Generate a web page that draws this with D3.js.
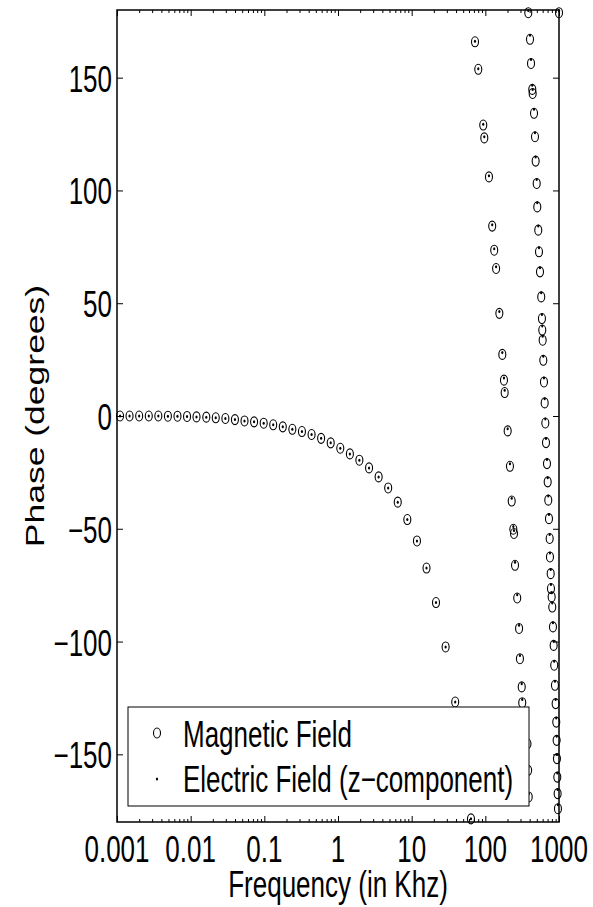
<!DOCTYPE html>
<html>
<head>
<meta charset="utf-8">
<script src="https://cdn.jsdelivr.net/npm/d3@7"></script>
<style>
  body { margin: 0; background: #fff; }
  text { font-family: "Liberation Sans", Arial, Helvetica, sans-serif; fill: #000; }
</style>
</head>
<body>
<div id="chart"></div>
<script>
// ---- data (frequency in kHz, phase in degrees) ----
// low frequency branch
const lowFreq = [0.0011, 0.00148, 0.0020, 0.0027, 0.00364, 0.00491, 0.00662, 0.00893, 0.0120, 0.0163,
    0.0219, 0.0296, 0.0399, 0.0538, 0.0726, 0.098, 0.132, 0.178, 0.240, 0.324,
    0.438, 0.590, 0.796, 1.074, 1.45, 1.95, 2.64, 3.56, 4.80, 6.47,
    8.73, 11.8, 15.9, 21.4, 28.9, 39.0, 52.6, 63.8];
const lowMagnetic = [0, 0, 0, 0, 0, -0.1, -0.1, -0.2, -0.4, -0.5,
    -0.8, -1.1, -1.6, -2.2, -2.6, -3.2, -3.9, -4.8, -5.9, -6.9,
    -8.2, -9.9, -11.9, -14.3, -16.8, -19.6, -23.0, -27.0, -31.9, -38.2,
    -45.9, -55.4, -67.4, -82.7, -102.4, -126.8, -153, -178.6];
const lowElectric = [0, 0, 0, 0, 0, -0.1, -0.1, -0.2, -0.4, -0.5,
    -0.8, -1.1, -1.6, -2.2, -2.6, -3.2, -3.9, -4.8, -5.9, -6.9,
    -8.2, -9.9, -11.9, -14.3, -16.8, -19.6, -23.0, -27.0, -31.9, -38.2,
    -45.9, -55.4, -67.4, -82.7, -102.4, -126.8, -153, -178.6];

// second wrap
const midFreq = [72.4, 80.2, 93.7, 96.8, 112, 124, 132, 140, 155, 170,
    179, 183, 201, 216, 228, 240, 245, 253, 271, 287,
    295, 312, 317, 373, 381, 388];
const midMagnetic = [165.9, 153.7, 129.0, 123.3, 106.0, 84.2, 73.5, 65.4, 45.5, 27.3,
    15.9, 10.4, -6.6, -22.3, -37.7, -50.2, -52.1, -66.2, -80.7, -94.2,
    -107.6, -120.1, -127.1, -145.3, -157.1, -168.9];
const midElectric = [166.2, 154.0, 129.4, 123.8, 106.5, 84.8, 74.2, 66.2, 46.3, 28.2,
    16.8, 11.4, -5.6, -21.2, -36.5, -49.0, -50.8, -64.8, -79.3, -92.8,
    -106.2, -118.7, -125.7, -143.9, -155.7, -167.5];

// third wrap
const highFreq = [383, 404, 417, 434, 439, 458, 472, 482, 498, 507,
    523, 535, 552, 574, 587, 593, 600, 612, 625, 639,
    652, 666, 687, 702, 715, 731, 747, 754, 771, 778,
    795, 810, 828, 846, 861, 881, 900, 918, 929, 938,
    948, 958, 968, 1000];
const highMagnetic = [178.8, 167, 156.3, 144.8, 143, 134.2, 123.8, 113, 103.1, 92.7,
    82.4, 72.8, 63.9, 52.8, 43.2, 38.1, 33.6, 24.7, 15.1, 5.8,
    -3.1, -11.8, -21.1, -29.2, -37.3, -45.5, -54.3, -62.5, -69.9, -76.5,
    -80.2, -84.7, -93.5, -101.7, -110.5, -119.4, -127.5, -135.7, -143.8, -151.9,
    -160.1, -167.4, -174.1, 178.8];
const highElectric = [179.8, 168.8, 158.1, 146.6, 144.8, 136, 125.6, 114.8, 104.9, 94.5,
    84.2, 74.6, 65.7, 54.6, 45, 39.9, 35.4, 26.5, 16.9, 7.6,
    -1.3, -10, -19.3, -27.4, -35.5, -43.7, -52.5, -60.7, -68.1, -74.7,
    -78.4, -82.9, -91.7, -99.9, -108.7, -117.6, -125.7, -133.9, -142, -150.1,
    -158.3, -165.6, -172.3, 179.8];

const xTicks = [0.001, 0.01, 0.1, 1, 10, 100, 1000];
const xTickLabels = ['0.001', '0.01', '0.1', '1', '10', '100', '1000'];
const yTicks = [-150, -100, -50, 0, 50, 100, 150];
const legendLabels = ['Magnetic Field', 'Electric Field (z\u2212component)'];

// ---- layout ----
const width = 593, height = 907;
const plot = {left: 117, right: 559, top: 10, bottom: 822};
const stretch = 1.42;   // the original figure is squeezed horizontally

const svg = d3.select('#chart').append('svg')
    .attr('width', width)
    .attr('height', height);

const x = d3.scaleLog().domain([0.001, 1000]).range([plot.left, plot.right]);
const y = d3.scaleLinear().domain([-180, 180]).range([plot.bottom, plot.top]);

// build point lists
function pairs(fs, ps) {
    return fs.map((f, i) => ({f: f, p: ps[i]}));
}
const magnetic = pairs(lowFreq, lowMagnetic).concat(pairs(midFreq, midMagnetic), pairs(highFreq, highMagnetic));
const electric = pairs(lowFreq, lowElectric).concat(pairs(midFreq, midElectric), pairs(highFreq, highElectric));

// markers
svg.append('g').selectAll('ellipse')
    .data(magnetic)
    .join('ellipse')
    .attr('cx', d => x(d.f))
    .attr('cy', d => y(d.p))
    .attr('rx', 3.5)
    .attr('ry', 5)
    .attr('fill', 'none')
    .attr('stroke', '#000')
    .attr('stroke-width', 1.1);

svg.append('g').selectAll('ellipse')
    .data(electric)
    .join('ellipse')
    .attr('cx', d => x(d.f))
    .attr('cy', d => y(d.p))
    .attr('rx', 1.1)
    .attr('ry', 1.5)
    .attr('fill', '#000');

// ticks (inward, on all four sides)
const minorX = x.ticks().filter(d => Math.abs(Math.log10(d) - Math.round(Math.log10(d))) > 1e-6);

function tickGroup(axis, tx, ty) {
    const g = svg.append('g')
        .attr('transform', `translate(${tx},${ty})`)
        .call(axis);
    g.select('.domain').remove();
    g.selectAll('line').attr('stroke', '#000').attr('stroke-width', 1);
    return g;
}
tickGroup(d3.axisBottom(x).tickValues(minorX).tickSize(-3).tickFormat(''), 0, plot.bottom);
tickGroup(d3.axisBottom(x).tickValues(xTicks).tickSize(-6).tickFormat(''), 0, plot.bottom);
tickGroup(d3.axisTop(x).tickValues(minorX).tickSize(-3).tickFormat(''), 0, plot.top);
tickGroup(d3.axisTop(x).tickValues(xTicks).tickSize(-6).tickFormat(''), 0, plot.top);
tickGroup(d3.axisLeft(y).tickValues(yTicks).tickSize(-6).tickFormat(''), plot.left, 0);
tickGroup(d3.axisRight(y).tickValues(yTicks).tickSize(-6).tickFormat(''), plot.right, 0);

// box
svg.append('rect')
    .attr('x', plot.left)
    .attr('y', plot.top)
    .attr('width', plot.right - plot.left)
    .attr('height', plot.bottom - plot.top)
    .attr('fill', 'none')
    .attr('stroke', '#000')
    .attr('stroke-width', 1.5);

// tick labels
svg.append('g').selectAll('text')
    .data(xTicks)
    .join('text')
    .attr('transform', d => `translate(${x(d)},862) scale(1,${stretch})`)
    .attr('text-anchor', 'middle')
    .style('font-size', '26px')
    .text((d, i) => xTickLabels[i]);

svg.append('g').selectAll('text')
    .data(yTicks)
    .join('text')
    .attr('transform', d => `translate(112,${y(d) + 14}) scale(1,${stretch})`)
    .attr('text-anchor', 'end')
    .style('font-size', '26px')
    .text(d => d < 0 ? '\u2212' + Math.abs(d) : String(d));

// axis titles
svg.append('text')
    .attr('transform', `translate(${(plot.left + plot.right) / 2},897) scale(1,${stretch})`)
    .attr('text-anchor', 'middle')
    .style('font-size', '26px')
    .text('Frequency (in Khz)');

svg.append('text')
    .attr('transform', `translate(44,${(plot.top + plot.bottom) / 2}) rotate(-90) scale(${stretch},1)`)
    .attr('text-anchor', 'middle')
    .style('font-size', '25px')
    .text('Phase (degrees)');

// legend
const legend = svg.append('g');
legend.append('rect')
    .attr('x', 128)
    .attr('y', 707)
    .attr('width', 401)
    .attr('height', 99)
    .attr('fill', '#fff')
    .attr('stroke', '#000')
    .attr('stroke-width', 1);

legend.append('ellipse')
    .attr('cx', 157).attr('cy', 733)
    .attr('rx', 3.5).attr('ry', 5)
    .attr('fill', 'none').attr('stroke', '#000').attr('stroke-width', 1.1);
legend.append('ellipse')
    .attr('cx', 157).attr('cy', 779)
    .attr('rx', 1.1).attr('ry', 1.5)
    .attr('fill', '#000');

legend.selectAll('text.lbl')
    .data(legendLabels)
    .join('text')
    .attr('class', 'lbl')
    .attr('transform', (d, i) => `translate(183,${747 + i * 45}) scale(1,${stretch})`)
    .style('font-size', '26px')
    .text(d => d);
</script>
</body>
</html>
